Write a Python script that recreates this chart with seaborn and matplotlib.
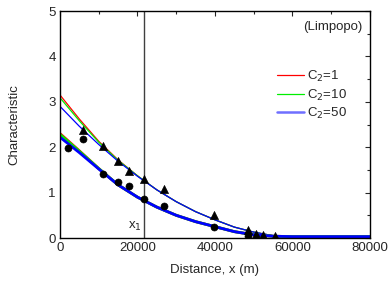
import numpy as np
import pandas as pd
import matplotlib
matplotlib.use("Agg")
import matplotlib.pyplot as plt
import seaborn as sns
from matplotlib.lines import Line2D
from matplotlib.ticker import MultipleLocator

sns.set_style("white")
plt.rcParams['font.family'] = ['Liberation Sans', 'DejaVu Sans']

# ---- data ----
curve_x = [0, 5000, 10000, 15000, 20000, 25000, 30000, 35000, 40000, 45000, 50000, 55000, 60000, 80000]
upper_c1 = [3.15, 2.62, 2.13, 1.72, 1.37, 1.06, 0.80, 0.58, 0.40, 0.24, 0.13, 0.05, 0.03, 0.03]
upper_c10 = [3.09, 2.58, 2.11, 1.71, 1.37, 1.06, 0.80, 0.58, 0.40, 0.24, 0.13, 0.05, 0.03, 0.03]
upper_c50 = [2.90, 2.46, 2.06, 1.69, 1.36, 1.06, 0.80, 0.58, 0.40, 0.24, 0.13, 0.05, 0.03, 0.03]
lower_c1 = [2.30, 1.92, 1.53, 1.17, 0.90, 0.68, 0.50, 0.36, 0.25, 0.14, 0.07, 0.04, 0.03, 0.03]
lower_c10 = [2.28, 1.91, 1.53, 1.17, 0.90, 0.68, 0.50, 0.36, 0.25, 0.14, 0.07, 0.04, 0.03, 0.03]
lower_c50 = [2.22, 1.88, 1.52, 1.17, 0.90, 0.68, 0.50, 0.36, 0.25, 0.14, 0.07, 0.04, 0.03, 0.03]

tri_x = [6000, 11000, 14900, 17900, 21750, 26900, 39800, 48400, 50500, 52400, 55400]
tri_y = [2.38, 2.03, 1.70, 1.48, 1.30, 1.08, 0.51, 0.18, 0.09, 0.06, 0.05]
circ_x = [2000, 6000, 11000, 14900, 17900, 21750, 26900, 39800, 48400]
circ_y = [1.99, 2.17, 1.40, 1.23, 1.15, 0.86, 0.70, 0.25, 0.04]

x1_pos = 21750
series_labels = ["C$_2$=1", "C$_2$=10", "C$_2$=50"]
series_colors = ["#ff0000", "#00ee00", "#0000ff"]

FS = 9.5

# ---- figure ----
fig = plt.figure(figsize=(3.88, 2.85), dpi=100)
ax = fig.add_axes([0.1546, 0.1649, 0.799, 0.7965])

rows = []
for lab, up, lo in zip(series_labels, [upper_c1, upper_c10, upper_c50], [lower_c1, lower_c10, lower_c50]):
    for xx, u, l in zip(curve_x, up, lo):
        rows.append(dict(x=xx, y=u, series=lab, branch="upper"))
        rows.append(dict(x=xx, y=l, series=lab, branch="lower"))
df = pd.DataFrame(rows)

pal = dict(zip(series_labels, series_colors))
sns.lineplot(data=df[df.branch == "upper"], x="x", y="y", hue="series", palette=pal,
             lw=0.9, ax=ax, legend=False, sort=False)
sns.lineplot(data=df[df.branch == "lower"], x="x", y="y", hue="series", palette=pal,
             lw=2.0, ax=ax, legend=False, sort=False)

sns.scatterplot(x=tri_x, y=tri_y, marker="^", s=34, color="black", edgecolor="black", ax=ax, zorder=5)
sns.scatterplot(x=circ_x, y=circ_y, marker="o", s=26, color="black", edgecolor="black", ax=ax, zorder=5)

ax.axvline(x1_pos, color="#404040", lw=1.0)
ax.text(x1_pos - 600, 0.12, "x$_1$", ha="right", va="bottom", fontsize=FS)

ax.set_xlim(0, 80000)
ax.set_ylim(0, 5)
ax.xaxis.set_major_locator(MultipleLocator(20000))
ax.xaxis.set_minor_locator(MultipleLocator(10000))
ax.yaxis.set_major_locator(MultipleLocator(1))
ax.yaxis.set_minor_locator(MultipleLocator(0.5))
ax.tick_params(which="both", direction="in", top=True, right=True, labelsize=FS, pad=3)
ax.tick_params(which="major", length=3.5, width=0.8)
ax.tick_params(which="minor", length=2.5, width=0.8)
for s in ax.spines.values():
    s.set_color("black")
    s.set_linewidth(1.0)

ax.set_xlabel("Distance, x (m)", fontsize=FS, labelpad=7)
ax.set_ylabel("Characteristic", fontsize=FS, labelpad=20)

ax.text(0.975, 0.93, "(Limpopo)", transform=ax.transAxes, ha="right", va="center", fontsize=FS)

handles = [Line2D([], [], color=series_colors[0], lw=0.9),
           Line2D([], [], color=series_colors[1], lw=0.9),
           Line2D([], [], color="#6f6fff", lw=1.8)]
ax.legend(handles, series_labels, loc="upper right", bbox_to_anchor=(0.955, 0.785), frameon=False,
          fontsize=FS, handlelength=2.0, handletextpad=0.25, labelspacing=0.25, borderaxespad=0.3)

fig.savefig("out.png", dpi=100)
